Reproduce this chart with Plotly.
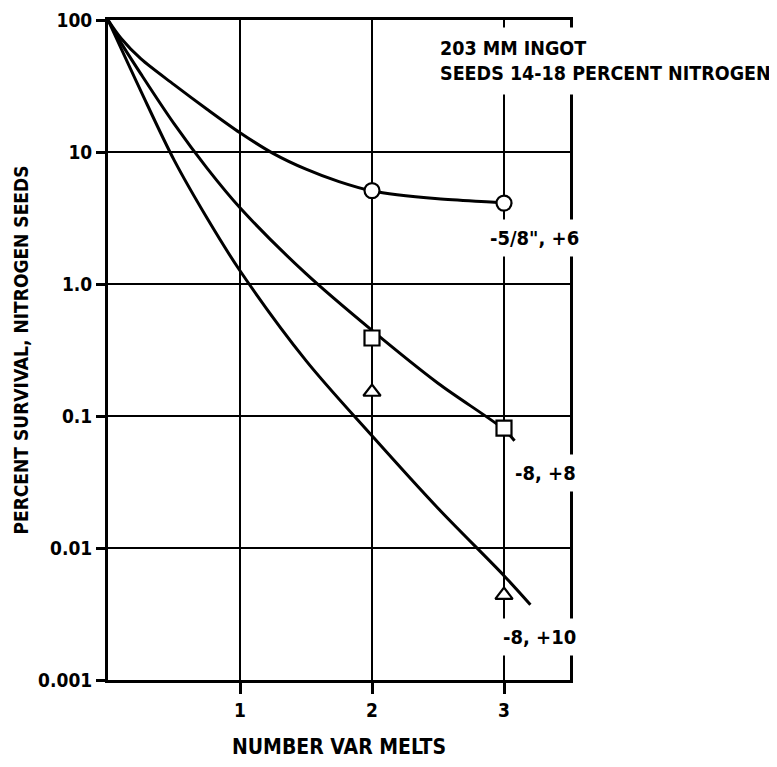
import plotly.graph_objects as go

# ---- data ----
melts_a = [0, 0.1, 0.25, 0.5, 0.75, 1.0, 1.25, 1.5, 1.75, 2.0, 2.5, 3.0, 3.06]
surv_a = [100, 72.4, 50.7, 32.4, 21.1, 14.0, 9.77, 7.41, 5.96, 5.07, 4.42, 4.11, 4.01]

melts_b = [0, 0.1, 0.25, 0.5, 0.75, 1.0, 1.5, 2.0, 2.5, 3.0, 3.08]
surv_b = [100, 66.8, 38.9, 16.4, 7.55, 3.78, 1.197, 0.445, 0.177, 0.079, 0.065]

melts_c = [0, 0.25, 0.5, 0.75, 1.0, 1.5, 2.0, 2.5, 3.0, 3.2]
surv_c = [100, 28.8, 8.71, 3.16, 1.26, 0.263, 0.0708, 0.020, 0.00617, 0.00372]

circle_x = [2, 3]
circle_y = [5.1, 4.1]
square_x = [2, 3]
square_y = [0.39, 0.081]
triangle_x = [2, 3]
triangle_y = [0.152, 0.0044]

x_ticks = [1, 2, 3]
y_ticks = [0.001, 0.01, 0.1, 1, 10, 100]
y_tick_text = ["0.001", "0.01", "0.1", "1.0", "10", "100"]

series_labels = ['-5/8", +6', "-8, +8", "-8, +10"]
title_lines = ["203 MM INGOT", "SEEDS 14-18 PERCENT NITROGEN"]

FONT = "Liberation Sans Narrow, DejaVu Sans Condensed, Arial Narrow, sans-serif"

fig = go.Figure()
for xs, ys in [(melts_a, surv_a), (melts_b, surv_b), (melts_c, surv_c)]:
    fig.add_trace(go.Scatter(x=xs, y=ys, mode="lines",
                             line=dict(color="black", width=3, shape="spline", smoothing=0.9),
                             showlegend=False, hoverinfo="skip"))

for xs, ys, sym in [(circle_x, circle_y, "circle"), (square_x, square_y, "square"),
                    (triangle_x, triangle_y, "triangle-up")]:
    fig.add_trace(go.Scatter(x=xs, y=ys, mode="markers",
                             marker=dict(symbol=sym, size=15, color="white",
                                         line=dict(color="black", width=2.2)),
                             showlegend=False))

fig.update_xaxes(range=[0, 3.5], tickvals=x_ticks, ticktext=[str(v) for v in x_ticks],
                 ticks="outside", ticklen=11, tickwidth=2.5, tickcolor="black",
                 showgrid=True, gridcolor="black", gridwidth=2.2,
                 showline=True, linecolor="black", linewidth=3, mirror=True,
                 zeroline=False, automargin=False,
                 tickfont=dict(family=FONT, size=19, color="black", weight="bold"),
                 title=dict(text="NUMBER VAR MELTS", standoff=20,
                            font=dict(family=FONT, size=21, color="black", weight="bold")))
fig.update_yaxes(type="log", range=[-3, 2], tickvals=y_ticks, ticktext=y_tick_text,
                 ticks="outside", ticklen=9, tickwidth=2.5, tickcolor="black",
                 showgrid=True, gridcolor="black", gridwidth=2.2,
                 showline=True, linecolor="black", linewidth=3, mirror=True,
                 zeroline=False, automargin=False,
                 tickfont=dict(family=FONT, size=19, color="black", weight="bold"),
                 title=dict(text="PERCENT SURVIVAL, NITROGEN SEEDS", standoff=5,
                            font=dict(family=FONT, size=19, color="black", weight="bold")))

annos = [
    dict(text="<br>".join(title_lines), x=0.698, y=0.938, xanchor="left", yanchor="middle",
         align="left", font=dict(family=FONT, size=19.5, color="black", weight="bold"),
         borderpad=9),
    dict(text=series_labels[0], x=0.924, y=0.670, xanchor="center", yanchor="middle",
         font=dict(family=FONT, size=20, color="black", weight="bold"), borderpad=6),
    dict(text=series_labels[1], x=0.946, y=0.3136, xanchor="center", yanchor="middle",
         font=dict(family=FONT, size=20, color="black", weight="bold"), borderpad=6),
    dict(text=series_labels[2], x=0.935, y=0.065, xanchor="center", yanchor="middle",
         font=dict(family=FONT, size=20, color="black", weight="bold"), borderpad=6),
]
for a in annos:
    fig.add_annotation(xref="paper", yref="paper", showarrow=False, bgcolor="white", **a)

# the page body adds an 8 px offset, so the figure is sized to end at the window edge
fig.update_layout(width=769, height=759, margin=dict(l=100, r=207, t=12, b=87),
                  plot_bgcolor="white", paper_bgcolor="white")

fig.write_html("out.html")
